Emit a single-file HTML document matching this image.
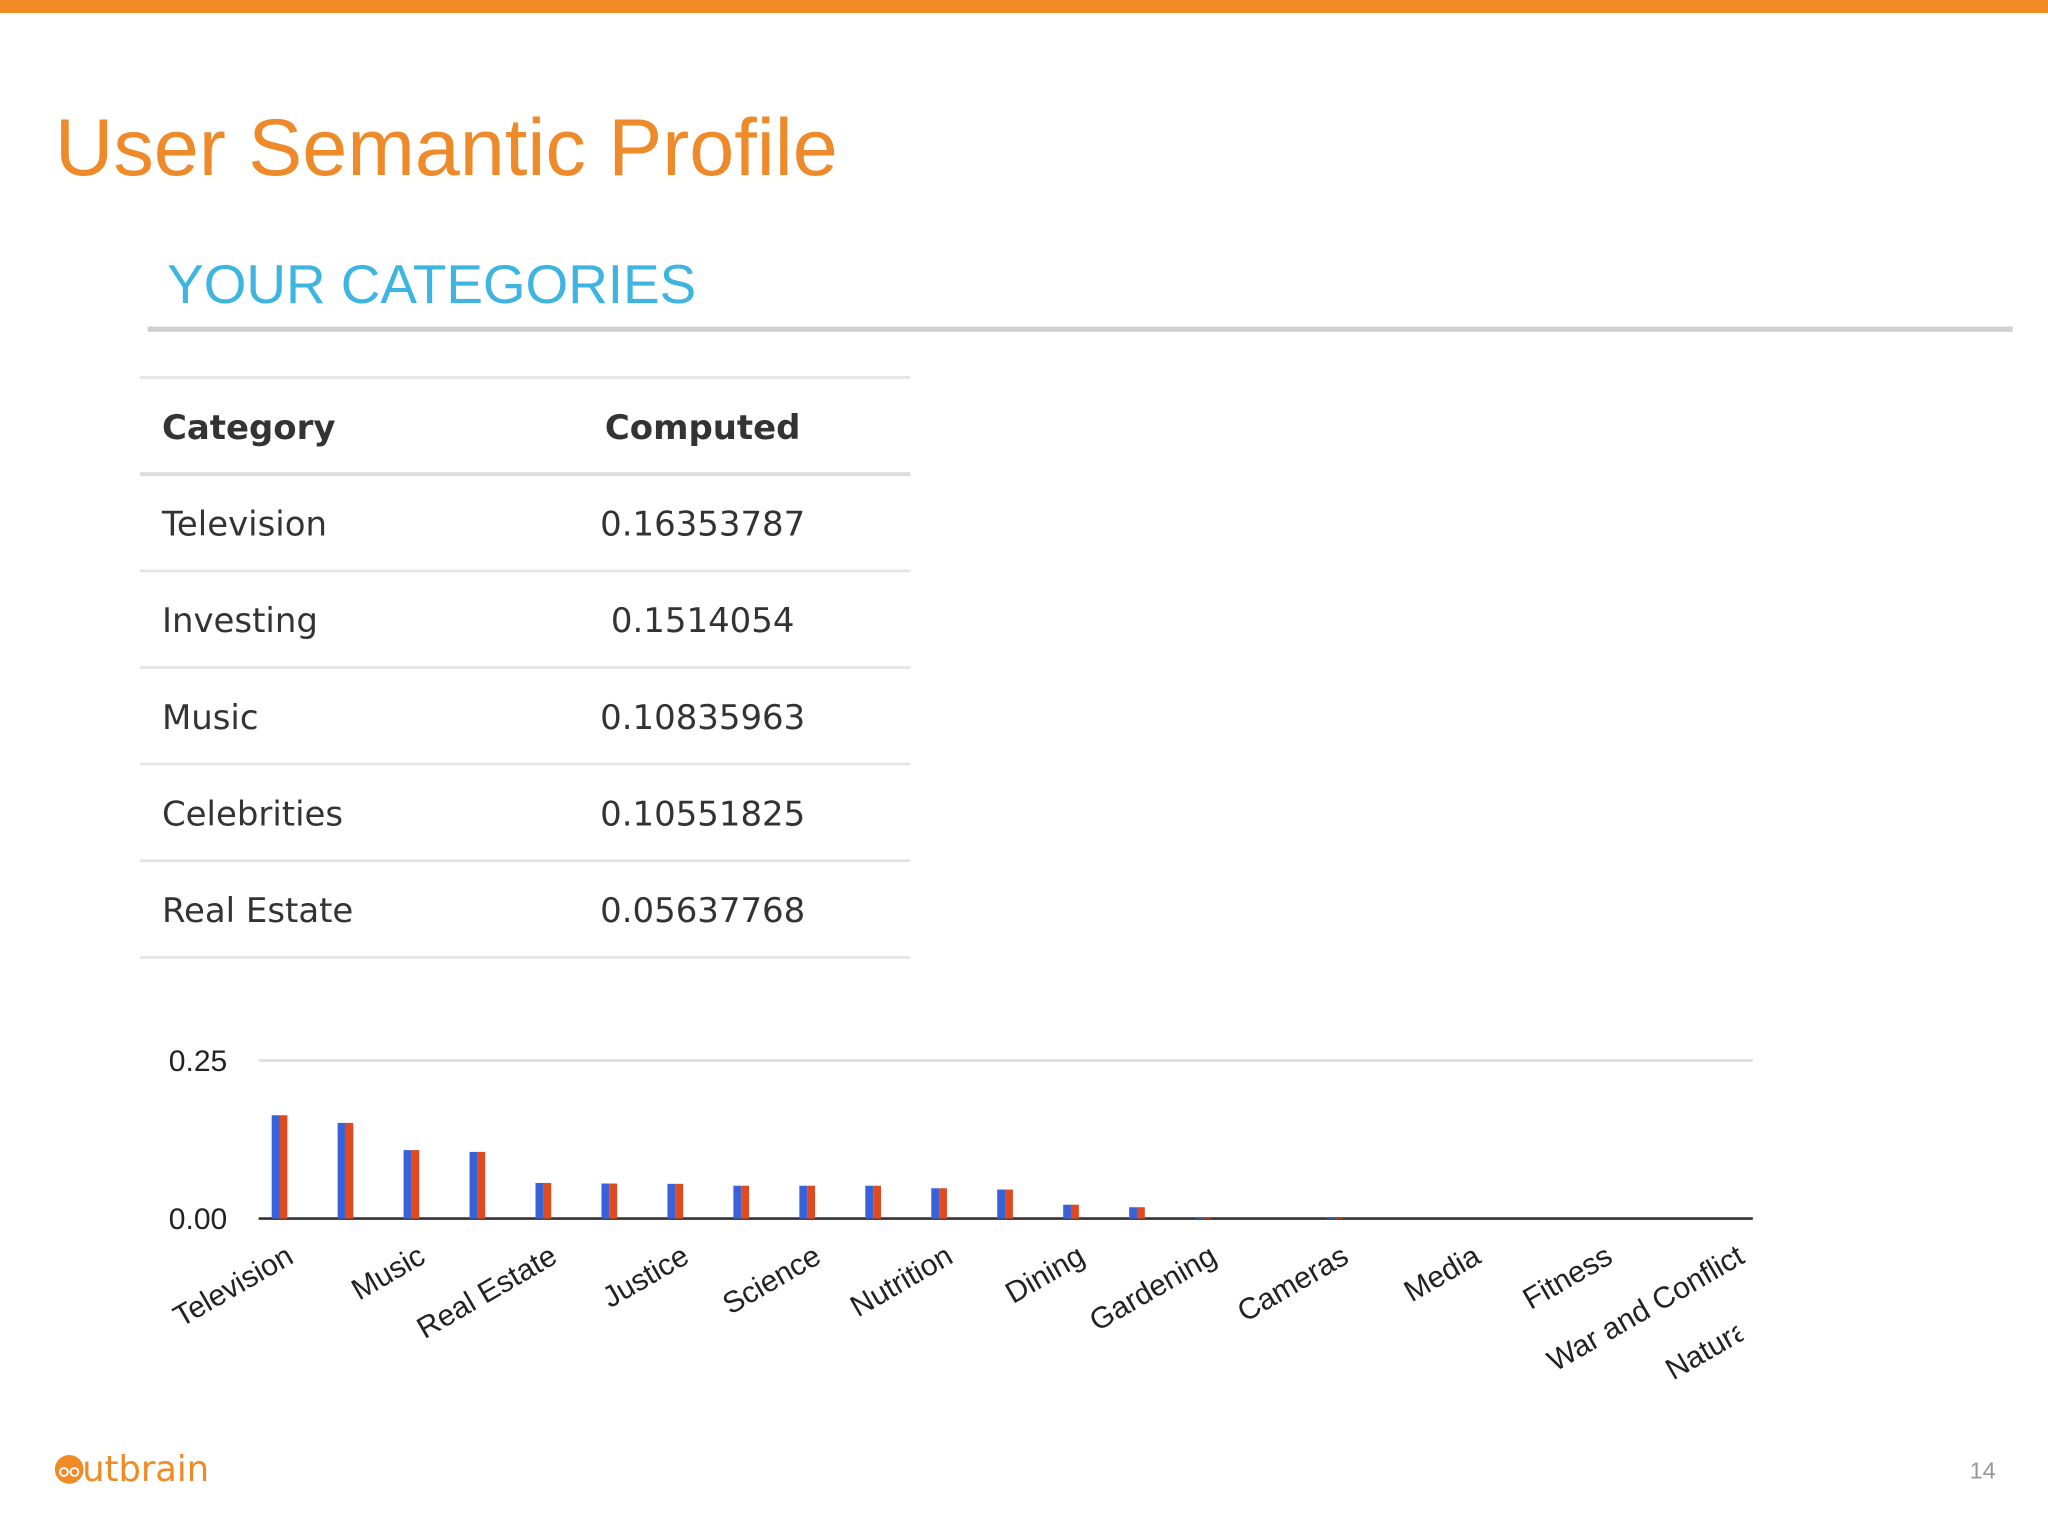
<!DOCTYPE html>
<html><head><meta charset="utf-8"><style>
html,body{margin:0;padding:0;background:#fff;}
svg{display:block;}
</style></head><body>
<svg width="2048" height="1536" viewBox="0 0 1568 1176" xmlns="http://www.w3.org/2000/svg">
<rect x="0" y="0" width="1568" height="10" fill="#F08A24"/>
<text x="42" y="134" font-family="Liberation Sans, sans-serif" font-size="62" fill="#EE8A2A">User Semantic Profile</text>
<text x="128" y="232" font-family="Liberation Sans, sans-serif" font-size="42" fill="#3DB5E0" textLength="405">YOUR CATEGORIES</text>
<rect x="113" y="250" width="1428" height="4" fill="#cfcfcf"/>
<g font-family="DejaVu Sans, sans-serif" font-size="26" fill="#333">
<line x1="107" y1="289" x2="697" y2="289" stroke="#e4e4e4" stroke-width="2"/>
<text x="124" y="336" font-weight="bold">Category</text>
<text x="538" y="336" font-weight="bold" text-anchor="middle">Computed</text>
<line x1="107" y1="363" x2="697" y2="363" stroke="#dcdcdc" stroke-width="3"/>
<g id="rows"></g>
</g>
<g id="chart" font-family="Liberation Sans, sans-serif" font-size="23" fill="#222"></g>
<g>
<circle cx="53" cy="1125" r="11" fill="#F08A24"/>
<circle cx="49" cy="1127" r="3" fill="none" stroke="#fff" stroke-width="1.5"/>
<circle cx="57" cy="1127" r="3" fill="none" stroke="#fff" stroke-width="1.5"/>
<text x="63" y="1134" font-family="DejaVu Sans, sans-serif" font-size="27" fill="#F08A24">utbrain</text>
</g>
<text x="1528" y="1132" text-anchor="end" font-family="Liberation Sans, sans-serif" font-size="18" fill="#999">14</text>
</svg>
<script>
const tableCats = ["Television","Investing","Music","Celebrities","Real Estate"];
const tableVals = ["0.16353787","0.1514054","0.10835963","0.10551825","0.05637768"];
const categories = ["Television","Investing","Music","Celebrities","Real Estate","Law","Justice","Health","Science","Travel","Nutrition","Sports","Dining","Fashion","Gardening","Autos","Cameras","Books","Media","Games","Fitness","Pets","War and Conflict"];
const seriesA = [0.1635,0.1514,0.1084,0.1055,0.0564,0.0555,0.055,0.052,0.052,0.052,0.048,0.046,0.022,0.018,0.001,0,0.001,0,0,0,0,0,0];
const seriesB = [0.1635,0.1514,0.1084,0.1055,0.0564,0.0555,0.055,0.052,0.052,0.052,0.048,0.046,0.022,0.018,0.001,0,0.001,0,0,0,0,0,0];
const yTicks = [0,0.25];
const yTickLabels = ["0.00","0.25"];
const NS="http://www.w3.org/2000/svg";
function mk(tag,attrs,parent){const e=document.createElementNS(NS,tag);for(const k in attrs)e.setAttribute(k,attrs[k]);parent.appendChild(e);return e;}
const rows=document.getElementById('rows');
tableCats.forEach((c,i)=>{
  const y=363+i*74;
  const t1=mk('text',{x:124,y:y+47},rows);t1.textContent=c;
  
  
  const t2=mk('text',{x:538,y:y+47,'text-anchor':'middle'},rows);t2.textContent=tableVals[i];
  
  
  mk('line',{x1:107,y1:y+74,x2:697,y2:y+74,stroke:'#e4e4e4','stroke-width':2},rows);
});
const g=document.getElementById('chart');
const x0=198,x1=1342,yBase=933,yTop=812;
const yS=v=>yBase-(v/0.25)*(yBase-yTop);
const xS=i=>214+i*50.5;
yTicks.forEach((v,i)=>{
  const l=mk('line',{x1:x0,x2:x1,y1:yS(v),y2:yS(v),stroke:i==0?'#333':'#ddd','stroke-width':2},g);
  
  
  const t=mk('text',{x:174,y:yS(v)+8,'text-anchor':'end'},g);t.textContent=yTickLabels[i];
  
  
});
categories.forEach((c,i)=>{
  const cx=xS(i);
  const a=mk('rect',{x:cx-6,y:yS(seriesA[i]),width:6,height:yBase-yS(seriesA[i]),fill:'#3A62D8'},g);
  
  
  const b=mk('rect',{x:cx,y:yS(seriesB[i]),width:6,height:yBase-yS(seriesB[i]),fill:'#E04A1F'},g);
  
  
  if(i%2==0){
    const t=mk('text',{x:cx+12,y:966,'text-anchor':'end',transform:`rotate(-30 ${cx+12} 966)`},g);t.textContent=c;
    
    
  }
});
mk('clipPath',{id:'cl'},g).appendChild(document.createElementNS(NS,'rect'));
const cr=g.querySelector('#cl rect');cr.setAttribute('x',1200);cr.setAttribute('y',990);cr.setAttribute('width',144);cr.setAttribute('height',100);
const nt=mk('text',{x:1281,y:1057,'text-anchor':'start',transform:'rotate(-30 1281 1057)','clip-path':'url(#cl)'},g);nt.textContent='Natural Disasters';


</script>
</body></html>
